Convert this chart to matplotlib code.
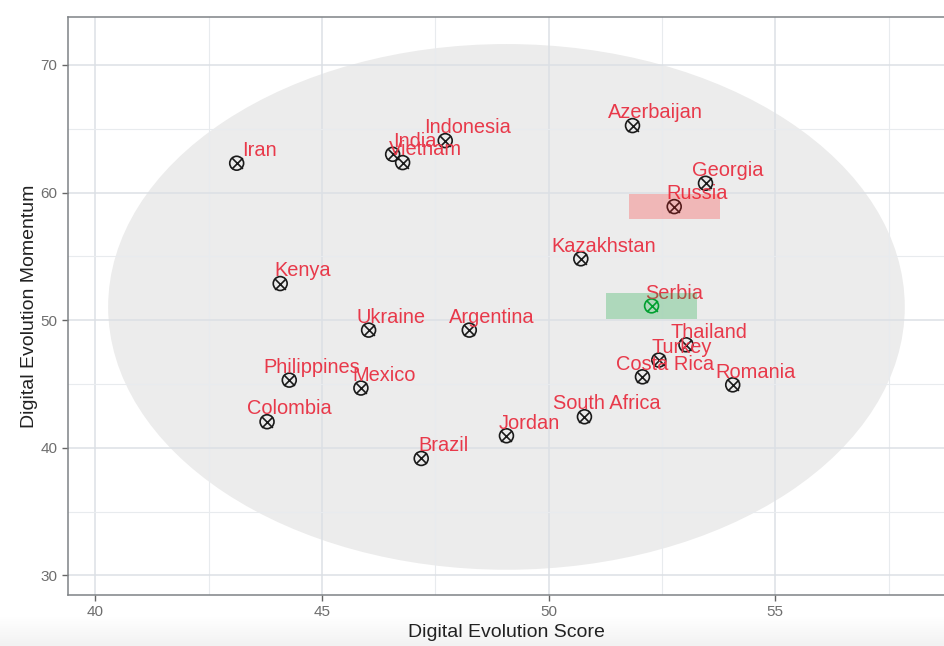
import matplotlib
matplotlib.use("Agg")
import matplotlib.pyplot as plt
import numpy as np
from matplotlib.patches import Ellipse, Rectangle

plt.rcParams['font.family'] = ['Liberation Sans', 'DejaVu Sans']

countries = ['Iran', 'India', 'Vietnam', 'Indonesia', 'Kenya', 'Ukraine', 'Argentina',
             'Philippines', 'Mexico', 'Colombia', 'Brazil', 'Azerbaijan', 'Georgia',
             'Russia', 'Kazakhstan', 'Serbia', 'Thailand', 'Turkey', 'Costa Rica',
             'Romania', 'South Africa', 'Jordan']
score = [43.12, 46.56, 46.78, 47.72, 44.08, 46.03, 48.25,
         44.28, 45.86, 43.79, 47.19, 51.85, 53.46,
         52.77, 50.71, 52.27, 53.03, 52.43, 52.07,
         54.06, 50.79, 49.07]
momentum = [62.30, 63.00, 62.35, 64.07, 52.87, 49.22, 49.22,
            45.30, 44.68, 42.04, 39.16, 65.25, 60.73,
            58.90, 54.81, 51.12, 48.07, 46.87, 45.56,
            44.93, 42.43, 40.94]

highlight = {'Russia': '#ff2020', 'Serbia': '#00a030'}
marker_col = {'Serbia': '#00a030'}

ell_center = (49.07, 51.04)
ell_w, ell_h = 17.57, 41.2

fig = plt.figure(figsize=(9.44, 6.46), dpi=100)

# faint shadow band at the bottom of the screenshot
bg = fig.add_axes([0, 0, 1, 0.045], zorder=-5)
grad = np.linspace(0, 1, 50).reshape(-1, 1)
bg.imshow(grad, aspect='auto', cmap='Greys', vmin=0, vmax=9, extent=[0, 1, 0, 1])
bg.axis('off')

ax = fig.add_axes([68 / 944, 51 / 646, 876 / 944, 578 / 646])
ax.set_xlim(39.40, 58.72)
ax.set_ylim(28.46, 73.76)
ax.set_axisbelow(True)

ax.add_patch(Ellipse(ell_center, ell_w, ell_h, facecolor='#ececec', edgecolor='none', zorder=0.3))

ax.set_xticks([40, 45, 50, 55])
ax.set_yticks([30, 40, 50, 60, 70])
ax.set_xticks([42.5, 47.5, 52.5, 57.5], minor=True)
ax.set_yticks([35, 45, 55, 65], minor=True)
ax.grid(which='major', color='#dce0e5', lw=1.1)
ax.grid(which='minor', color='#e8ebee', lw=0.8)
ax.tick_params(which='major', length=4, color='#666666', labelsize=11, labelcolor='#6e6e6e', width=1)
ax.tick_params(which='minor', length=0)
for s in ['left', 'bottom', 'top']:
    ax.spines[s].set_color('#7f8386')
    ax.spines[s].set_linewidth(1.1)
ax.spines['right'].set_visible(False)

for c, x, y in zip(countries, score, momentum):
    col = marker_col.get(c, '#1a1a1a')
    ax.scatter(x, y, s=100, facecolors='none', edgecolors=col, linewidths=1.2, zorder=3)
    ax.scatter(x, y, s=60, marker='x', color=col, linewidths=1.2, zorder=3)
    ax.text(x + 0.5, y + 1, c, ha='center', va='center', fontsize=14.4, color='#e8394a', zorder=4)

for c, x, y in zip(countries, score, momentum):
    if c in highlight:
        ax.add_patch(Rectangle((x - 1, y - 1), 2, 2, facecolor=highlight[c], alpha=0.26,
                               edgecolor='none', zorder=5))

ax.set_xlabel('Digital Evolution Score', fontsize=14, color='#222222', labelpad=3)
ax.set_ylabel('Digital Evolution Momentum', fontsize=14, color='#222222', labelpad=2)

fig.savefig('out.png', dpi=100)
